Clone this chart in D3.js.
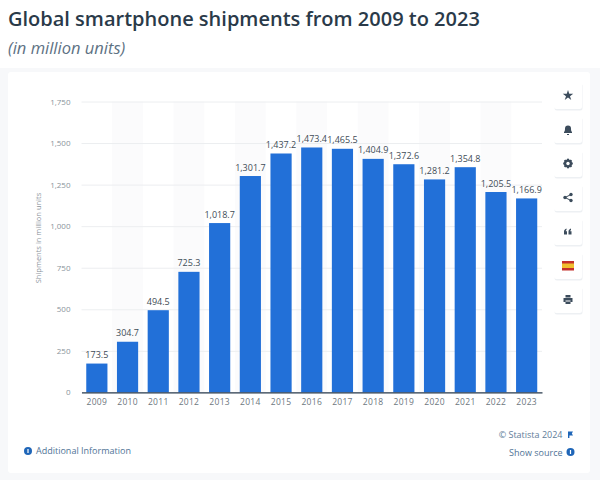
<!DOCTYPE html>
<html>
<head>
<meta charset="utf-8">
<script src="https://d3js.org/d3.v7.min.js"></script>
<title>Global smartphone shipments</title>
<style>
  html, body { margin: 0; padding: 0; background: #fff; }
  svg { display: block; font-family: "Open Sans", sans-serif; }
</style>
</head>
<body>
<div id="chart"></div>
<script>
var years = ["2009","2010","2011","2012","2013","2014","2015","2016","2017","2018","2019","2020","2021","2022","2023"];
var shipments = [173.5,304.7,494.5,725.3,1018.7,1301.7,1437.2,1473.4,1465.5,1404.9,1372.6,1281.2,1354.8,1205.5,1166.9];
var yTicks = [0,250,500,750,1000,1250,1500,1750];
var labelFormat = d3.format(",.1f");

var svg = d3.select("#chart").append("svg").attr("width", 600).attr("height", 480);

// page and card
svg.append("rect").attr("x", 0).attr("y", 68).attr("width", 600).attr("height", 412).attr("fill", "#f7f8fa");
svg.append("rect").attr("x", 8).attr("y", 72).attr("width", 582).attr("height", 401).attr("rx", 3).attr("fill", "#fff");

// title
svg.append("text").attr("x", 8).attr("y", 26).attr("font-size", 20).attr("font-weight", 600)
  .attr("fill", "#2a3a49").text("Global smartphone shipments from 2009 to 2023");
svg.append("text").attr("x", 8).attr("y", 54).attr("font-size", 16.5).attr("font-style", "italic")
  .attr("fill", "#5d7183").text("(in million units)");

var x = d3.scaleBand().domain(years).range([81.5, 542]).paddingInner(0.31).paddingOuter(0.155);
var y = d3.scaleLinear().domain([0, 1750]).range([392.4, 101.5]);

// alternating stripes
svg.append("g").selectAll("rect").data(years.filter(function (d, i) { return i % 2 == 1; })).enter().append("rect")
  .attr("x", function (d) { return x(d) + x.bandwidth() / 2 - x.step() / 2; })
  .attr("y", y(1750))
  .attr("width", x.step())
  .attr("height", y(0) - y(1750))
  .attr("fill", "#fbfbfc");

// y axis with gridlines
var yAxis = svg.append("g").attr("transform", "translate(81.5,0)")
  .call(d3.axisLeft(y).tickValues(yTicks).tickSize(-460.5).tickPadding(11).tickFormat(d3.format(",")));
yAxis.select(".domain").remove();
yAxis.selectAll(".tick line").attr("stroke", "#eceef0");
yAxis.selectAll(".tick text").attr("font-size", 8).attr("fill", "#8a939b").attr("font-family", "Open Sans");

svg.append("text").attr("transform", "translate(41,238) rotate(-90)").attr("text-anchor", "middle")
  .attr("font-size", 7.5).attr("fill", "#8a939b").text("Shipments in million units");

// bars
svg.append("g").selectAll("rect").data(shipments).enter().append("rect")
  .attr("x", function (d, i) { return x(years[i]); })
  .attr("y", function (d) { return y(d); })
  .attr("width", x.bandwidth())
  .attr("height", function (d) { return y(0) - y(d); })
  .attr("fill", "#2270d8");

// value labels
svg.append("g").selectAll("text").data(shipments).enter().append("text")
  .attr("x", function (d, i) { return x(years[i]) + x.bandwidth() / 2; })
  .attr("y", function (d) { return y(d) - 5.5; })
  .attr("text-anchor", "middle")
  .attr("font-size", 9)
  .attr("font-weight", 500)
  .attr("fill", "#414c56")
  .text(function (d) { return labelFormat(d); });

// x axis
var xAxis = svg.append("g").attr("transform", "translate(0,392.4)")
  .call(d3.axisBottom(x).tickSize(0).tickPadding(7));
xAxis.select(".domain").attr("stroke", "#2b3d4f").attr("stroke-width", 1.2);
xAxis.selectAll(".tick text").attr("font-size", 8.5).attr("fill", "#6d7780").attr("font-family", "Open Sans").attr("letter-spacing", 0.3);

// footer links
function infoDot(cx, cy) {
  svg.append("circle").attr("cx", cx).attr("cy", cy).attr("r", 4).attr("fill", "#1f66b8");
  svg.append("rect").attr("x", cx - 0.6).attr("y", cy - 2).attr("width", 1.2).attr("height", 4).attr("fill", "#fff");
}
infoDot(28, 451);
svg.append("text").attr("x", 36).attr("y", 454).attr("font-size", 9).attr("fill", "#4f7396").text("Additional Information");
svg.append("text").attr("x", 562.5).attr("y", 438).attr("text-anchor", "end").attr("font-size", 9).attr("fill", "#5f7d99").text("© Statista 2024");
svg.append("path").attr("d", "M568 431.5h5l-1.2 2 1.2 2h-3.6v2.5h-1.4z").attr("fill", "#1f66b8");
svg.append("text").attr("x", 562.5).attr("y", 456).attr("text-anchor", "end").attr("font-size", 9).attr("fill", "#4f7396").text("Show source");
infoDot(570.5, 452);

// side buttons
var buttonTops = [82, 116, 150, 184, 218, 252, 286];
var buttons = svg.append("g").selectAll("g").data(buttonTops).enter().append("g")
  .attr("transform", function (d) { return "translate(554," + d + ")"; });
buttons.append("rect").attr("x", 0.5).attr("y", 1.5).attr("width", 28).attr("height", 27).attr("rx", 2.5).attr("fill", "#e6eaee").attr("opacity", 0.7);
buttons.append("rect").attr("width", 28).attr("height", 27).attr("rx", 2.5).attr("fill", "#fff");

var icon = "#3c4c5c";
function iconGroup(i) { return d3.select(buttons.nodes()[i]).append("g").attr("transform", "translate(14,13.5)"); }
iconGroup(0).append("path").attr("fill", icon).attr("d", d3.symbol(d3.symbolStar, 34)());
iconGroup(1).append("path").attr("fill", icon).attr("d", "M-4 2.5c1-1 1-2.5 1-3.5a3 3 0 0 1 6 0c0 1 0 2.500 1 3.500v1h-8zM-1 4.500h2v1h-2z");
var gear = iconGroup(2);
gear.append("circle").attr("r", 3).attr("fill", "none").attr("stroke", icon).attr("stroke-width", 2.2);
gear.selectAll("rect").data([0, 45, 90, 135]).enter().append("rect")
  .attr("x", -1).attr("y", -4.8).attr("width", 2).attr("height", 9.6).attr("fill", icon)
  .attr("transform", function (d) { return "rotate(" + d + ")"; });
gear.append("circle").attr("r", 1.7).attr("fill", "#fff");
var share = iconGroup(3);
share.append("path").attr("d", "M3-3L-3 0L3 3").attr("fill", "none").attr("stroke", icon).attr("stroke-width", 1);
share.selectAll("circle").data([[3, -3], [-3, 0], [3, 3]]).enter().append("circle")
  .attr("cx", function (d) { return d[0]; }).attr("cy", function (d) { return d[1]; }).attr("r", 1.7).attr("fill", icon);
iconGroup(4).append("path").attr("fill", icon)
  .attr("d", "M-4 3v-3c0-1.500 1-2.500 2.500-3v1.500c-.5.3-.8.7-.8 1.200h1.300v3.300zM0.500 3v-3c0-1.500 1-2.500 2.500-3v1.500c-.5.3-.8.7-.8 1.200h1.300v3.300z");
var flag = iconGroup(5);
flag.append("rect").attr("x", -6).attr("y", -4.5).attr("width", 12).attr("height", 9.5).attr("fill", "#c4302b");
flag.append("rect").attr("x", -6).attr("y", -2).attr("width", 12).attr("height", 4.500).attr("fill", "#f1bf2e");
iconGroup(6).append("path").attr("fill", icon)
  .attr("d", "M-2.500-4.500h5v2.500h-5zM-4.500-1.500h9v4h-2v-1.500h-5v1.500h-2zM-2.500 2h5v2.500h-5z");
</script>
</body>
</html>
